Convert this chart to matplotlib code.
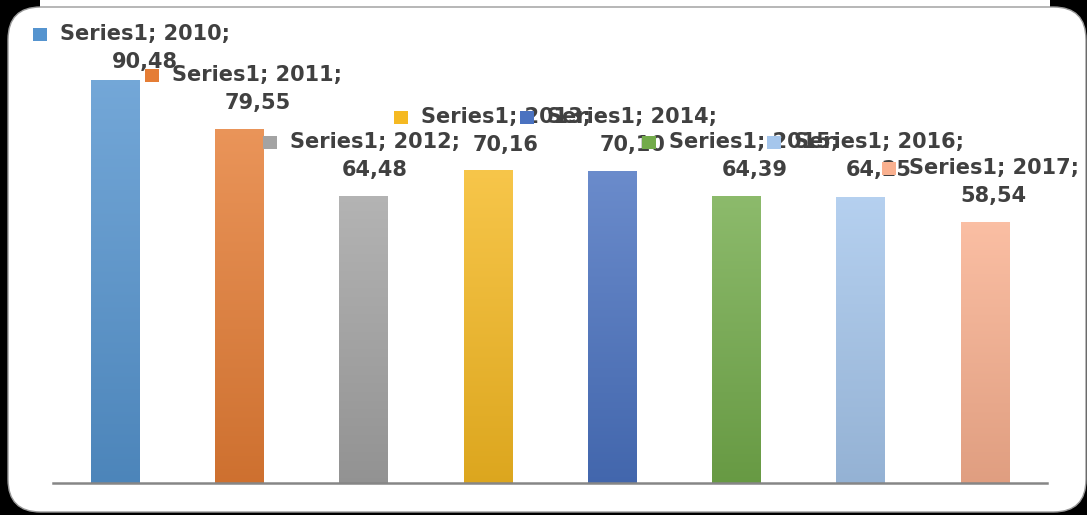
import numpy as np
import matplotlib.pyplot as plt
import matplotlib.colors as mcolors
from matplotlib.patches import FancyBboxPatch, Rectangle
from matplotlib import transforms

# data
series = "Series1"
years = ["2010", "2011", "2012", "2013", "2014", "2015", "2016", "2017"]
values = [90.48, 79.55, 64.48, 70.16, 70.10, 64.39, 64.25, 58.54]
colors = ["#5594cf", "#e57d35", "#a3a3a3", "#f5b922",
          "#4a72c0", "#73ab4b", "#a5c6ec", "#f9b08f"]

# label offsets (pixels) relative to bar top centre
label_dx = [30, 18, 11, 18, 20, 18, 18, 9]
label_dy = [18, 26, 26, 25, 26, 26, 27, 26]

W, H = 1087, 515
fig = plt.figure(figsize=(W / 100, H / 100), dpi=100)
fig.patch.set_facecolor("black")

# white rounded panel behind the axes
fig.patches.append(Rectangle((40 / W, 505 / H), 1010 / W, 10 / H,
                             transform=fig.transFigure, facecolor="white",
                             edgecolor="none", zorder=-2))
panel = FancyBboxPatch((8 / W, 3 / H), 1078 / W, 505 / H,
                       boxstyle="round,pad=0,rounding_size=0.03",
                       transform=fig.transFigure, facecolor="white",
                       edgecolor="#9a9a9a", linewidth=1.0, zorder=-1,
                       mutation_aspect=W / H)
fig.patches.append(panel)

ax = fig.add_axes([53 / W, 32 / H, 994 / W, 445.5 / H])
ax.set_facecolor("none")
x = np.arange(len(years))
bars = ax.bar(x, values, width=0.39, color=colors, zorder=2)
ax.set_xlim(-0.5, len(years) - 0.5)
ax.set_ylim(0, 100)

# vertical gradient fill, lighter at the top
for b, c in zip(bars, colors):
    rgb = np.array(mcolors.to_rgb(c))
    top = rgb + (1 - rgb) * 0.18
    bot = rgb * 0.9
    t = np.linspace(0, 1, 64)[:, None]
    grad = (bot[None, :] * (1 - t) + top[None, :] * t)[:, None, :]
    x0, y0 = b.get_x(), b.get_y()
    im = ax.imshow(grad, extent=[x0, x0 + b.get_width(), y0, y0 + b.get_height()],
                   origin="lower", aspect="auto", zorder=2.5, interpolation="bilinear")
    im.set_clip_path(b)

for s in ["top", "right", "left"]:
    ax.spines[s].set_visible(False)
ax.spines["bottom"].set_color("#868686")
ax.spines["bottom"].set_linewidth(1.8)
ax.set_xticks([])
ax.set_yticks([])

txt_kw = dict(fontsize=15, fontweight="bold", color="#404040",
              ha="center", va="center", clip_on=False)
fig.canvas.draw()
renderer = fig.canvas.get_renderer()
for i, (yr, v, c) in enumerate(zip(years, values, colors)):
    z = 5 + i
    t2 = transforms.offset_copy(ax.transData, fig=fig, x=label_dx[i],
                                y=label_dy[i], units="dots")
    t1 = transforms.offset_copy(ax.transData, fig=fig, x=label_dx[i],
                                y=label_dy[i] + 28, units="dots")
    ax.text(i, v, f"{v:.2f}".replace(".", ","), transform=t2, zorder=z, **txt_kw)
    line1 = ax.text(i, v, f"{series}; {yr};", transform=t1, zorder=z, **txt_kw)
    bb = line1.get_window_extent(renderer)
    # legend key square left of the first line
    cx = bb.x0 - 20
    cy = (bb.y0 + bb.y1) / 2
    key = Rectangle(((cx - 7) / W, (cy - 7) / H), 14 / W, 13 / H,
                    transform=fig.transFigure, facecolor=c,
                    edgecolor="none", zorder=z, clip_on=False)
    ax.add_artist(key)

fig.savefig("out.png", dpi=100, facecolor=fig.get_facecolor())
